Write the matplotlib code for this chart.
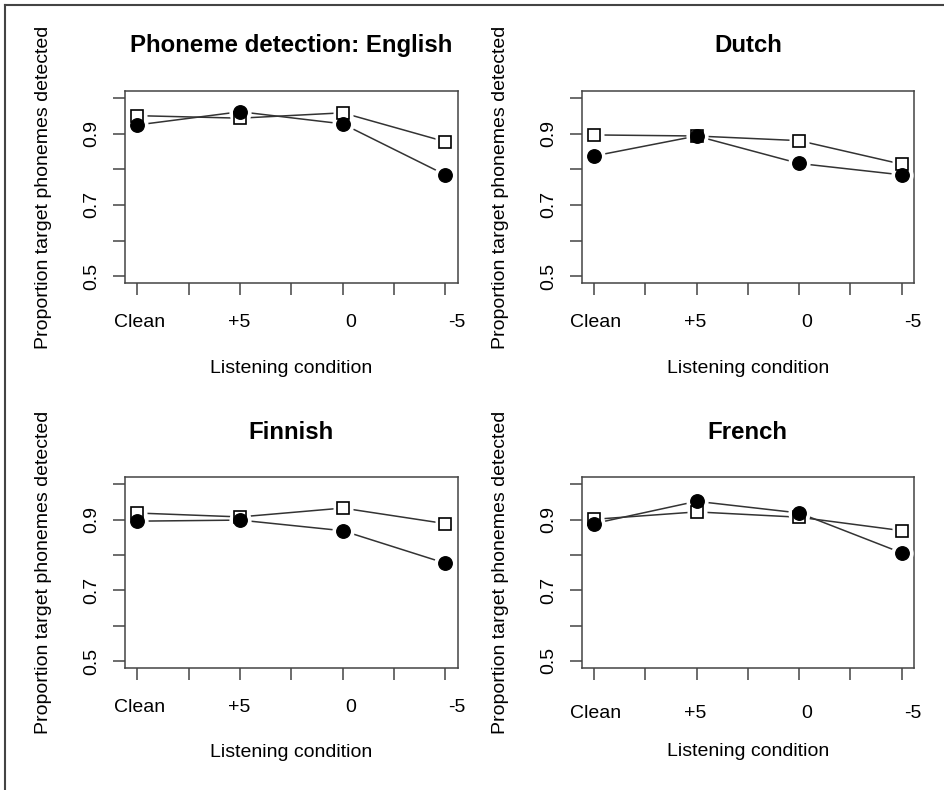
import matplotlib.pyplot as plt
import matplotlib.transforms as mtransforms
from matplotlib.lines import Line2D

# listening conditions (x axis) and proportions
CONDITIONS = ['Clean', '+5', '0', '-5']
X_POS = [1, 2, 3, 4]
MINOR_POS = [1.5, 2.5, 3.5]

english_open = [0.950, 0.943, 0.958, 0.877]
english_filled = [0.924, 0.961, 0.927, 0.784]
dutch_open = [0.896, 0.893, 0.880, 0.814]
dutch_filled = [0.837, 0.893, 0.816, 0.784]
finnish_open = [0.919, 0.908, 0.933, 0.889]
finnish_filled = [0.896, 0.899, 0.869, 0.777]
french_open = [0.901, 0.922, 0.907, 0.869]
french_filled = [0.889, 0.952, 0.919, 0.806]

TITLES = ['Phoneme detection: English', 'Dutch', 'Finnish', 'French']
Y_TICKS = [0.5, 0.6, 0.7, 0.8, 0.9, 1.0]
Y_TICK_LABELS = ['0.5', '', '0.7', '', '0.9', '']

plt.rcParams['font.family'] = ['Liberation Sans', 'DejaVu Sans']

W, H = 945, 790
fig = plt.figure(figsize=(W / 100, H / 100), dpi=100)

# panel boxes in pixels: left, top, right, bottom
boxes = [
    (125, 90.7, 457.7, 283.3),
    (581.7, 90.7, 914, 283.3),
    (125, 477.3, 457.7, 668.3),
    (581.7, 477.3, 914, 668.0),
]
panels = [
    (english_open, english_filled),
    (dutch_open, dutch_filled),
    (finnish_open, finnish_filled),
    (french_open, french_filled),
]
xlab_pad = [13, 13, 13, 18]
# the condition labels sit a little off their ticks in the original (pixels)
label_dx = [2, -1, 8, 11]

AX_COL = '#444444'

for (l, t, r, b), (opn, fil), title, pad in zip(boxes, panels, TITLES, xlab_pad):
    ax = fig.add_axes([l / W, (H - b) / H, (r - l) / W, (b - t) / H])
    ax.set_xlim(0.88, 4.12)
    ax.set_ylim(0.48, 1.02)

    # lines, then white halos to give the R type="b" gaps, then markers
    ax.plot(X_POS, opn, color='#333333', lw=1.1, zorder=2)
    ax.plot(X_POS, fil, color='#333333', lw=1.1, zorder=2)
    ax.plot(X_POS, opn, ls='none', marker='s', ms=15, mfc='white', mec='none', zorder=3)
    ax.plot(X_POS, fil, ls='none', marker='o', ms=16, mfc='white', mec='none', zorder=3)
    ax.plot(X_POS, opn, ls='none', marker='s', ms=9, mfc='white', mec='black', mew=1.2, zorder=4)
    ax.plot(X_POS, fil, ls='none', marker='o', ms=9.7, mfc='black', mec='black', zorder=5)

    for s in ax.spines.values():
        s.set_color(AX_COL)
        s.set_linewidth(1.1)

    ax.set_xticks(X_POS)
    ax.set_xticklabels(CONDITIONS)
    ax.set_xticks(MINOR_POS, minor=True)
    ax.set_yticks(Y_TICKS)
    ax.set_yticklabels(Y_TICK_LABELS)
    ax.tick_params(axis='both', which='both', direction='out', length=8.8,
                   width=1.1, color=AX_COL, labelsize=14)
    ax.tick_params(axis='x', which='major', pad=pad)
    ax.tick_params(axis='y', pad=9, labelrotation=90)
    for lab in ax.get_yticklabels():
        lab.set_va('center')
    for lab, dx in zip(ax.get_xticklabels(), label_dx):
        lab.set_transform(lab.get_transform() +
                          mtransforms.ScaledTranslation(dx / 100, 0, fig.dpi_scale_trans))

    ax.text(0.5, 1.2, title, transform=ax.transAxes, ha='center', va='baseline',
            fontsize=17.3, fontweight='bold')
    ax.text(0.5, -0.44, 'Listening condition', transform=ax.transAxes,
            ha='center', va='center', fontsize=14)
    ax.text(-0.245, 0.5, 'Proportion target phonemes detected', transform=ax.transAxes,
            ha='center', va='center', rotation=90, fontsize=14)

# thin frame on the top and left edges of the image
fig.add_artist(Line2D([5 / W, 1], [1 - 5 / H, 1 - 5 / H], transform=fig.transFigure,
                      color='#444444', lw=1.5))
fig.add_artist(Line2D([5 / W, 5 / W], [0, 1 - 5 / H], transform=fig.transFigure,
                      color='#444444', lw=1.5))

fig.savefig('out.png', dpi=100)
